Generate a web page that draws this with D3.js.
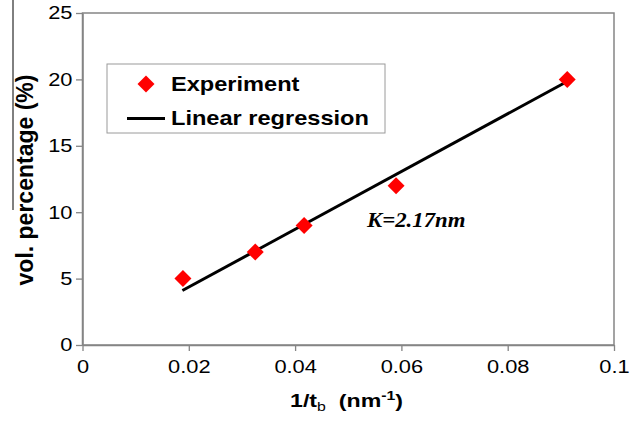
<!DOCTYPE html>
<html>
<head>
<meta charset="utf-8">
<script src="https://cdn.jsdelivr.net/npm/d3@7"></script>
<style>
  body { margin: 0; background: #fff; }
</style>
</head>
<body>
<div class="chart"></div>
<script>
// measured points (1/tb in nm^-1, vol. %)
const expX = [0.0189, 0.0325, 0.0417, 0.0590, 0.0912]
const expY = [5, 7, 9, 12, 20]
// end points of the fitted line
const regX = [0.0188, 0.0910]
const regY = [4.1, 19.8]
const xTicks = [0, 0.02, 0.04, 0.06, 0.08, 0.1]
const xTickLabels = ['0', '0.02', '0.04', '0.06', '0.08', '0.1']
const yTicks = [0, 5, 10, 15, 20, 25]
const legendLabels = ['Experiment', 'Linear regression']

const margin = {top: 13, right: 27, bottom: 77, left: 82.5}
const width = 641 - margin.left - margin.right
const height = 422 - margin.top - margin.bottom

const root = d3.select('.chart')
  .append('svg')
    .attr('width', 641)
    .attr('height', 422)
    .style('font-family', 'Arial, "Liberation Sans", sans-serif')

// the picture is stretched sideways a bit, so stretch text the same way
const sx = 1.18

// stray line at the far left of the scan
root.append('line')
  .attr('x1', 13).attr('x2', 13)
  .attr('y1', 0).attr('y2', 210)
  .attr('stroke', '#000').attr('stroke-width', 1)

const svg = root.append('g')
  .attr('transform', `translate(${margin.left}, ${margin.top})`)

const xScale = d3.scaleLinear().domain([0, 0.1]).range([0, width])
const yScale = d3.scaleLinear().domain([0, 25]).range([height, 0])

// frame
svg.append('rect')
  .attr('width', width).attr('height', height)
  .attr('fill', 'none')
  .attr('stroke', '#858585').attr('stroke-width', 1.5)

const xAxis = svg.append('g')
  .attr('transform', `translate(0, ${height})`)
  .call(d3.axisBottom(xScale)
    .tickValues(xTicks)
    .tickFormat((d, i) => xTickLabels[i])
    .tickSize(6).tickPadding(9).tickSizeOuter(0))

const yAxis = svg.append('g')
  .call(d3.axisLeft(yScale).tickValues(yTicks).tickSize(6.5).tickPadding(3.5).tickSizeOuter(0))

;[xAxis, yAxis].forEach(ax => {
  ax.select('.domain').attr('stroke', '#858585').attr('stroke-width', 1.5)
  ax.selectAll('.tick line').attr('stroke', '#858585').attr('stroke-width', 1.3)
  ax.selectAll('.tick text')
    .attr('fill', '#000')
    .style('font-size', '18.5px')
    .style('font-family', 'Arial, "Liberation Sans", sans-serif')
    .attr('transform', `scale(${sx},1)`)
})
yAxis.selectAll('.tick text').attr('x', -10 / sx)

// regression line
const line = d3.line()
  .x(d => xScale(d[0]))
  .y(d => yScale(d[1]))

svg.append('path')
  .attr('d', line(d3.zip(regX, regY)))
  .attr('fill', 'none')
  .attr('stroke', '#000')
  .attr('stroke-width', 3)

// experiment diamonds
const diamond = d3.symbol(d3.symbolSquare, 144)

svg.selectAll('.pt')
  .data(d3.zip(expX, expY))
  .enter()
  .append('path')
    .attr('class', 'pt')
    .attr('d', diamond)
    .attr('transform', d => `translate(${xScale(d[0])}, ${yScale(d[1])}) rotate(45)`)
    .attr('fill', '#ff0000')

// legend
const lg = root.append('g')
lg.append('rect')
  .attr('x', 107).attr('y', 64)
  .attr('width', 278).attr('height', 69)
  .attr('fill', '#fff')
  .attr('stroke', '#9a9a9a').attr('stroke-width', 1)
lg.append('path')
  .attr('d', diamond)
  .attr('transform', 'translate(146, 84) rotate(45)')
  .attr('fill', '#ff0000')
lg.append('line')
  .attr('x1', 127).attr('x2', 165)
  .attr('y1', 118.5).attr('y2', 118.5)
  .attr('stroke', '#000').attr('stroke-width', 3)
lg.selectAll('.lab')
  .data(legendLabels)
  .enter()
  .append('text')
    .attr('class', 'lab')
    .attr('x', 171 / sx)
    .attr('y', (d, i) => [91, 125][i])
    .attr('transform', `scale(${sx},1)`)
    .style('font-size', '20px')
    .style('font-weight', 'bold')
    .text(d => d)

// slope annotation
const ks = 1.14
root.append('text')
  .attr('x', 367 / ks).attr('y', 227)
  .attr('transform', `scale(${ks},1)`)
  .style('font-family', '"Times New Roman", "Liberation Serif", serif')
  .style('font-style', 'italic')
  .style('font-weight', 'bold')
  .style('font-size', '20px')
  .text('K=2.17nm')

// x axis title
const xs = 1.22
const xt = root.append('text')
  .attr('x', 290 / xs).attr('y', 407)
  .attr('transform', `scale(${xs},1)`)
  .attr('xml:space', 'preserve')
  .style('font-size', '19px')
  .style('font-weight', 'bold')
xt.append('tspan').text('1/t')
xt.append('tspan').attr('dy', 4).style('font-size', '13px').style('font-weight', 'normal').text('b')
xt.append('tspan').attr('dy', -4).text('  (nm')
xt.append('tspan').attr('dy', -7).style('font-size', '13px').text('-1')
xt.append('tspan').attr('dy', 7).text(')')

// y axis title
root.append('text')
  .attr('transform', 'translate(33, 180) rotate(-90)')
  .attr('text-anchor', 'middle')
  .style('font-size', '23px')
  .style('font-weight', 'bold')
  .text('vol. percentage (%)')
</script>
</body>
</html>
